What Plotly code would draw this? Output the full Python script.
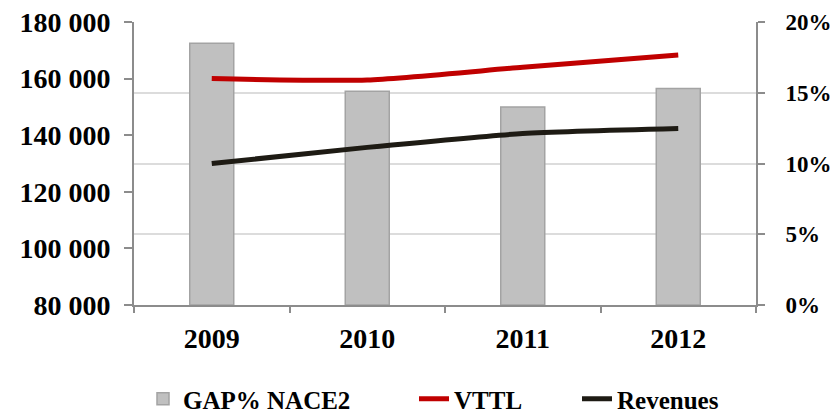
import plotly.graph_objects as go

years = ["2009", "2010", "2011", "2012"]
gap_pct = [0.185, 0.151, 0.140, 0.153]
vttl = [160000, 159500, 164000, 168300]
revenues = [130000, 135700, 140600, 142400]

FONT = "Liberation Serif, Times New Roman, serif"
AXIS_GRAY = "#8c8c8c"
LEG_FONT = dict(size=25, family=FONT, color="black", weight="bold")

fig = go.Figure()
fig.add_trace(go.Bar(
    x=years, y=gap_pct, name="GAP% NACE2", yaxis="y", legend="legend",
    marker=dict(color="#c0c0c0", line=dict(color="#a3a3a3", width=1.5)),
))
fig.add_trace(go.Scatter(
    x=years, y=vttl, name="VTTL", yaxis="y2", mode="lines", legend="legend2",
    line=dict(color="#c00000", width=5, shape="spline", smoothing=0.6),
))
fig.add_trace(go.Scatter(
    x=years, y=revenues, name="Revenues", yaxis="y2", mode="lines", legend="legend3",
    line=dict(color="#1e1b14", width=5, shape="spline", smoothing=0.6),
))

def px_x(p):
    return (p - 134) / 622.0

leg_y = -(399 - 305) / 283.0

fig.update_layout(
    width=834, height=417,
    margin=dict(l=134, r=78, t=22, b=112, autoexpand=False),
    paper_bgcolor="white", plot_bgcolor="white",
    separators=". ",
    bargap=0.717,
    font=dict(family=FONT, color="black"),
    xaxis=dict(
        type="category", tickson="boundaries", ticks="outside", ticklen=6,
        tickcolor=AXIS_GRAY, tickwidth=2, automargin=False,
        showline=True, linecolor=AXIS_GRAY, linewidth=2,
        tickfont=dict(size=28, family=FONT, color="black", weight="bold"),
        ticklabelstandoff=7, ticklabeloverflow="allow",
    ),
    yaxis=dict(
        side="right", range=[0, 0.2], dtick=0.05, tickformat=".0%",
        showgrid=True, gridcolor="#dcdcdc", gridwidth=1.5, automargin=False,
        showline=True, linecolor=AXIS_GRAY, linewidth=2,
        ticks="outside", ticklen=7, tickcolor=AXIS_GRAY, tickwidth=2,
        tickfont=dict(size=23, family=FONT, color="black", weight="bold"),
        ticklabelstandoff=16, zeroline=False, ticklabeloverflow="allow",
    ),
    yaxis2=dict(
        side="left", overlaying="y", range=[80000, 180000], dtick=20000,
        tickformat=",d", showgrid=False, zeroline=False, automargin=False,
        showline=True, linecolor=AXIS_GRAY, linewidth=2,
        ticks="outside", ticklen=8, tickcolor=AXIS_GRAY, tickwidth=2,
        tickfont=dict(size=28, family=FONT, color="black", weight="bold"),
        ticklabelstandoff=8, ticklabeloverflow="allow",
    ),
    legend=dict(orientation="h", x=px_x(143), xanchor="left", y=leg_y, yanchor="middle",
                font=LEG_FONT, bgcolor="rgba(0,0,0,0)"),
    legend2=dict(orientation="h", x=px_x(414), xanchor="left", y=leg_y, yanchor="middle",
                 font=LEG_FONT, bgcolor="rgba(0,0,0,0)"),
    legend3=dict(orientation="h", x=px_x(577), xanchor="left", y=leg_y, yanchor="middle",
                 font=LEG_FONT, bgcolor="rgba(0,0,0,0)"),
    showlegend=True,
)

fig.write_html(
    "out.html",
    config={"displayModeBar": False},
    post_script="document.body.style.margin='0';document.body.style.overflow='hidden';",
)
